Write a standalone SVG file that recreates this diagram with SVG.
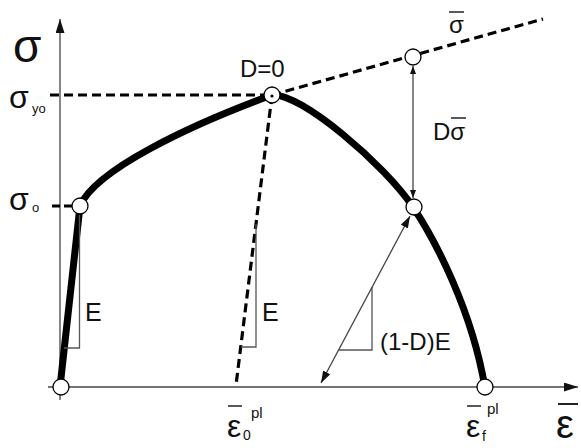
<svg xmlns="http://www.w3.org/2000/svg" width="581" height="448" viewBox="0 0 581 448">
<defs>
<style>
.thin{stroke:#444;stroke-width:1.3;fill:none}
.tri{stroke:#555;stroke-width:1.3;fill:none}
.dash{stroke:#000;stroke-width:3.2;stroke-dasharray:9 5;fill:none}
.curve{stroke:#000;stroke-width:7;fill:none;stroke-linejoin:round}
.pt{fill:#fff;stroke:#000;stroke-width:1.3}
.ov{stroke:#222;stroke-width:1.5}
text{font-family:"Liberation Sans",Arial,sans-serif;fill:#111}
</style>
<marker id="axh" viewBox="0 0 14 9" refX="14" refY="4.5" markerWidth="14" markerHeight="9" markerUnits="userSpaceOnUse" orient="auto-start-reverse"><path d="M0,0 L14,4.5 L0,9 z" fill="#111"/></marker>
<marker id="ah" viewBox="0 0 12 8" refX="12" refY="4" markerWidth="12" markerHeight="8" markerUnits="userSpaceOnUse" orient="auto-start-reverse"><path d="M0,0 L12,4 L0,8 z" fill="#111"/></marker>
<marker id="ahs" viewBox="0 0 8 6" refX="8" refY="3" markerWidth="8" markerHeight="6" markerUnits="userSpaceOnUse" orient="auto-start-reverse"><path d="M0,0 L8,3 L0,6 z" fill="#111"/></marker>
</defs>
<g id="connectors">
<line id="y-axis" class="thin" x1="60" y1="400" x2="60" y2="19" marker-end="url(#axh)"/>
<line id="x-axis" class="thin" x1="48" y1="387" x2="578" y2="387" marker-end="url(#axh)"/>
<line class="dash" x1="50" y1="95" x2="266" y2="95"/>
<line class="dash" x1="52" y1="206" x2="74" y2="206" style="stroke-dasharray:8 4"/>
<line class="dash" x1="272" y1="95" x2="236" y2="385"/>
<line class="dash" x1="272" y1="95" x2="543" y2="19"/>
<path class="curve" d="M60,387 L80,206 C95,170 190,125 272,95 C300,92 385,165 413,207 C435,240 472,310 485,388"/>
<polyline class="tri" points="79.5,215 79.5,348 64,348"/>
<polyline class="tri" points="256,224 256,347 241,347"/>
<polyline class="tri" points="372,287 372,350 339,350"/>
<line class="thin" x1="413" y1="198" x2="413" y2="66" marker-start="url(#ahs)" marker-end="url(#ahs)"/>
<line class="thin" x1="410" y1="216" x2="321" y2="383" marker-start="url(#ah)" marker-end="url(#ah)"/>
</g>
<g id="node-origin"><circle class="pt" cx="61" cy="387" r="8"/></g>
<g id="node-sigma0"><circle class="pt" cx="80" cy="206" r="8"/></g>
<g id="node-peak"><circle class="pt" cx="272" cy="95" r="8"/><circle cx="272" cy="96" r="1.6" fill="#000"/></g>
<g id="node-sigmabar"><circle class="pt" cx="413" cy="57" r="8"/></g>
<g id="node-damaged"><circle class="pt" cx="414" cy="207" r="8"/></g>
<g id="node-epsf"><circle class="pt" cx="485" cy="387" r="8"/></g>
<g id="labels">
<text x="13" y="62" font-size="46">σ</text>
<text x="9" y="108" font-size="32">σ</text><text x="32" y="113" font-size="13">yo</text>
<text x="9" y="210" font-size="32">σ</text><text x="32" y="212" font-size="13">o</text>
<text x="240" y="77" font-size="24">D=0</text>
<text x="85" y="321" font-size="25">E</text>
<text x="262" y="321" font-size="25">E</text>
<text x="433" y="140" font-size="24">Dσ</text><line class="ov" x1="451" y1="118" x2="466" y2="118"/>
<text x="449" y="33" font-size="24">σ</text><line class="ov" x1="449" y1="12" x2="464" y2="12"/>
<text x="380" y="350" font-size="24">(1-D)E</text>
<text x="227" y="437" font-size="32">ε</text><text x="243" y="440" font-size="14">0</text><text x="251" y="418" font-size="15">pl</text><line class="ov" x1="228" y1="406" x2="242" y2="406"/>
<text x="466" y="437" font-size="32">ε</text><text x="482" y="441" font-size="14">f</text><text x="487" y="414" font-size="15">pl</text><line class="ov" x1="467" y1="406" x2="481" y2="406"/>
<text x="556" y="438" font-size="40">ε</text><line class="ov" x1="558" y1="404" x2="578" y2="404" style="stroke-width:2"/>
</g>
</svg>
